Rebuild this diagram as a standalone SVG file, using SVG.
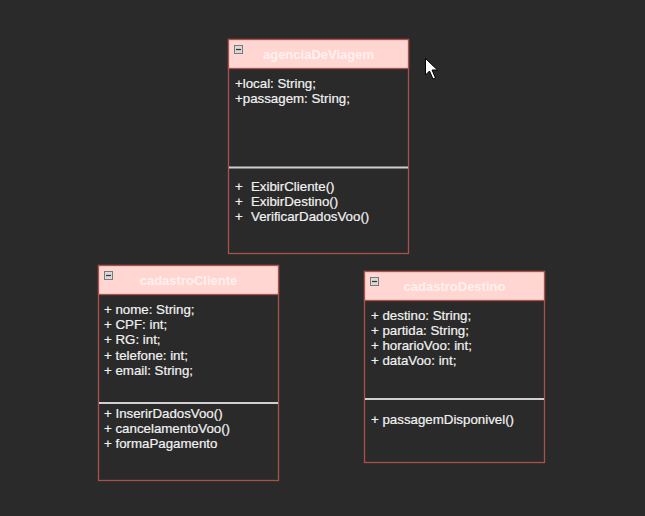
<svg xmlns="http://www.w3.org/2000/svg" width="645" height="516" viewBox="0 0 645 516">
<style>
.bg{fill:#2a2a2a}
.box{fill:#2a2a2a;stroke:#a9524d;stroke-width:1.3}
.hdr{fill:#ffd6d1;stroke:#a9524d;stroke-width:1.3}
.div{stroke:#cfcfcf;stroke-width:2}
.ttl{font-family:"Liberation Sans",Arial,sans-serif;font-size:13px;font-weight:bold;fill:#fff1ef;text-anchor:middle}
.t{font-family:"Liberation Sans",Arial,sans-serif;font-size:13.3px;fill:#f2f2f2;stroke:#f2f2f2;stroke-width:0.2}
.ic{fill:#d8d8d8;stroke:#7a7a7a;stroke-width:1}
.icm{stroke:#333;stroke-width:1.2}
</style>
<rect class="bg" x="0" y="0" width="645" height="516"/>
<g id="agenciaDeViagem">
<rect class="box" x="228.5" y="39.5" width="180" height="214"/>
<rect class="hdr" x="228.5" y="39.5" width="180" height="29"/>
<rect class="ic" x="234.5" y="45.5" width="8" height="8"/>
<line class="icm" x1="236" y1="49.5" x2="241" y2="49.5"/>
<text class="ttl" x="318.5" y="59">agenciaDeViagem</text>
<text class="t" x="235" y="88">+local: String;</text>
<text class="t" x="235" y="103">+passagem: String;</text>
<line class="div" x1="229" y1="167.5" x2="408" y2="167.5"/>
<text class="t" x="235" y="191">+<tspan x="251">ExibirCliente()</tspan></text>
<text class="t" x="235" y="206">+<tspan x="251">ExibirDestino()</tspan></text>
<text class="t" x="235" y="221">+<tspan x="251">VerificarDadosVoo()</tspan></text>
</g>
<g id="cadastroCliente">
<rect class="box" x="98.5" y="265.5" width="180" height="215"/>
<rect class="hdr" x="98.5" y="265.5" width="180" height="29"/>
<rect class="ic" x="104.5" y="271.5" width="8" height="8"/>
<line class="icm" x1="106" y1="275.5" x2="111" y2="275.5"/>
<text class="ttl" x="188.5" y="285">cadastroCliente</text>
<text class="t" x="104" y="314">+ nome: String;</text>
<text class="t" x="104" y="329">+ CPF: int;</text>
<text class="t" x="104" y="344">+ RG: int;</text>
<text class="t" x="104" y="360">+ telefone: int;</text>
<text class="t" x="104" y="375">+ email: String;</text>
<line class="div" x1="99" y1="403" x2="278" y2="403"/>
<text class="t" x="104" y="418">+ InserirDadosVoo()</text>
<text class="t" x="104" y="433">+ cancelamentoVoo()</text>
<text class="t" x="104" y="448">+ formaPagamento</text>
</g>
<g id="cadastroDestino">
<rect class="box" x="364.5" y="271.5" width="180" height="191"/>
<rect class="hdr" x="364.5" y="271.5" width="180" height="29"/>
<rect class="ic" x="370.5" y="277.5" width="8" height="8"/>
<line class="icm" x1="372" y1="281.5" x2="377" y2="281.5"/>
<text class="ttl" x="454.5" y="291">cadastroDestino</text>
<text class="t" x="371" y="320">+ destino: String;</text>
<text class="t" x="371" y="335">+ partida: String;</text>
<text class="t" x="371" y="350">+ horarioVoo: int;</text>
<text class="t" x="371" y="365">+ dataVoo: int;</text>
<line class="div" x1="365" y1="399" x2="544" y2="399"/>
<text class="t" x="371" y="424">+ passagemDisponivel()</text>
</g>
<g id="connectors"></g>
<polygon points="425.5,58.5 425.5,75 429.5,71 433,79 435.5,78 432,70 437.5,70" fill="#ffffff" stroke="#000000" stroke-width="1"/>
</svg>
